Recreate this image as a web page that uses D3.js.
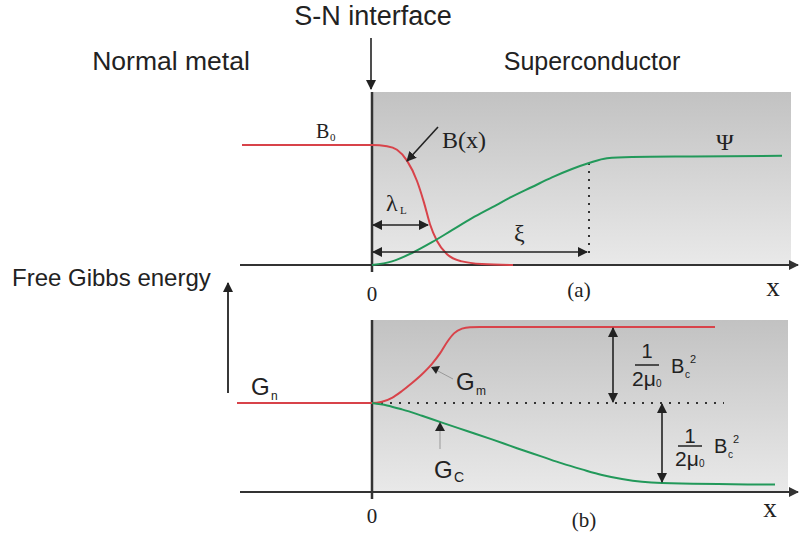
<!DOCTYPE html>
<html><head><meta charset="utf-8">
<script src="https://cdn.jsdelivr.net/npm/d3@7"></script>
<style>body{margin:0;background:#fff}svg{display:block}</style>
</head><body>
<script>
// ---- data (x in arbitrary position units; interface at x = 0) ----
const bFieldX   = [-130, 0, 15, 25, 35, 45, 52, 58, 65, 75, 90, 110, 141];
const bFieldY   = [1, 1, 0.99, 0.96, 0.87, 0.7, 0.52, 0.34, 0.2, 0.09, 0.03, 0.008, 0];
const psiX      = [0, 20, 40, 60, 80, 100, 120, 140, 160, 180, 200, 217, 235, 260, 320, 410];
const psiY      = [0, 0.03, 0.1, 0.19, 0.29, 0.39, 0.48, 0.57, 0.65, 0.73, 0.8, 0.85, 0.89, 0.9, 0.905, 0.91];
const gmX       = [-135, 0, 10, 20, 30, 40, 50, 60, 68, 75, 82, 90, 98, 108, 343];
const gmY       = [0, 0, 0.015, 0.065, 0.15, 0.25, 0.36, 0.49, 0.62, 0.76, 0.87, 0.93, 0.948, 0.95, 0.95];
const gcX       = [0, 15, 30, 50, 70, 95, 120, 145, 170, 190, 210, 230, 250, 270, 290, 403];
const gcY       = [0, -0.03, -0.08, -0.16, -0.245, -0.35, -0.455, -0.565, -0.67, -0.755, -0.83, -0.9, -0.95, -0.985, -1, -1.02];
const lambdaL   = 56;     // penetration depth
const xi        = 215;    // coherence length
const tickLabels = ["0"];

const W = 799, H = 540;
const red = "#d8434a", green = "#22995a", ink = "#222";

const svg = d3.select("body").append("svg").attr("width", W).attr("height", H);
const defs = svg.append("defs");
const grad = defs.append("linearGradient").attr("id","g").attr("x1",0).attr("y1",0).attr("x2",0).attr("y2",1);
grad.append("stop").attr("offset","0%").attr("stop-color","#c2c2c2");
grad.append("stop").attr("offset","100%").attr("stop-color","#e9e9e9");
function marker(id, color){
  defs.append("marker").attr("id",id).attr("viewBox","0 0 10 10").attr("refX",9).attr("refY",5)
   .attr("markerWidth",10).attr("markerHeight",10).attr("markerUnits","userSpaceOnUse").attr("orient","auto-start-reverse")
   .append("path").attr("d","M0,0 L10,5 L0,10 z").attr("fill",color);
}
marker("ah", ink); marker("ahg", "#333");

const x = d3.scaleLinear().domain([-132, 427]).range([240, 799]);
const yTop = d3.scaleLinear().domain([0, 1]).range([265, 145]);
const yBot = d3.scaleLinear().domain([-1, 0]).range([483, 403]);

const serif = "'Liberation Serif','Times New Roman',serif";
const sans  = "'Liberation Sans',Arial,sans-serif";

// panels
svg.append("rect").attr("x", x(0)).attr("y", 92).attr("width", x(419)-x(0)).attr("height", yTop(0)-92).attr("fill","url(#g)");
svg.append("rect").attr("x", x(0)).attr("y", 320).attr("width", x(416)-x(0)).attr("height", 492-320).attr("fill","url(#g)");

// axes
function hAxis(y){
  svg.append("line").attr("x1", x(-132)).attr("x2", x(426)).attr("y1", y).attr("y2", y)
    .attr("stroke","#333").attr("stroke-width",2).attr("marker-end","url(#ahg)");
}
hAxis(yTop(0)); hAxis(492);
svg.append("line").attr("x1",x(0)).attr("x2",x(0)).attr("y1",92).attr("y2",272).attr("stroke","#333").attr("stroke-width",2.5);
svg.append("line").attr("x1",x(0)).attr("x2",x(0)).attr("y1",320).attr("y2",499).attr("stroke","#333").attr("stroke-width",2.5);

// curves
const mk = (xs, ys, sc) => xs.map((d,i)=>[x(d), sc(ys[i])]);
const line = d3.line().curve(d3.curveMonotoneX);
function curve(xs, ys, sc, color){
  svg.append("path").attr("d", line(mk(xs, ys, sc))).attr("fill","none").attr("stroke",color).attr("stroke-width",2);
}

// dotted helpers
svg.append("line").attr("x1",x(xi+2)).attr("x2",x(xi+2)).attr("y1",yTop(0.85)).attr("y2",258)
  .attr("stroke","#333").attr("stroke-width",2).attr("stroke-dasharray","2,6");
svg.append("line").attr("x1",x(0)).attr("x2",x(352)).attr("y1",yBot(0)).attr("y2",yBot(0))
  .attr("stroke","#333").attr("stroke-width",2).attr("stroke-dasharray","2,7");

curve(bFieldX, bFieldY, yTop, red);
curve(psiX, psiY, yTop, green);
curve(gmX, gmY, yBot, red);
curve(gcX, gcY, yBot, green);

// arrows
function arrow(x1,y1,x2,y2,opts={}){
  const l = svg.append("line").attr("x1",x1).attr("y1",y1).attr("x2",x2).attr("y2",y2)
    .attr("stroke",opts.color||ink).attr("stroke-width",opts.w||1.6).attr("marker-end","url(#ah)");
  if(opts.both) l.attr("marker-start","url(#ah)");
}
arrow(x(-1), 38, x(-1), 89);                       // S-N interface
arrow(438, 127, 407, 161);                         // B(x)
arrow(x(0)+1, 225, x(lambdaL), 225, {both:true});   // lambda_L
arrow(x(0)+1, 252, x(xi), 252, {both:true});        // xi
arrow(228, 393, 228, 283, {w:1.8});                 // Gibbs energy
arrow(613, yBot(0.95)+1, 613, yBot(0)-1, {both:true});
arrow(662, yBot(0)+1, 662, yBot(-1)-1, {both:true});
svg.append("line").attr("x1",453).attr("y1",379).attr("x2",436).attr("y2",370).attr("stroke","#999").attr("stroke-width",1);
svg.append("path").attr("d","M431,367 L440,366 L436,374 z").attr("fill",ink);
svg.append("line").attr("x1",440).attr("y1",449).attr("x2",440).attr("y2",428).attr("stroke","#999").attr("stroke-width",1);
svg.append("path").attr("d","M440,422 L445,431 L435,431 z").attr("fill",ink);

// text helpers
function txt(s, xx, yy, size, family, anchor="start", fill=ink){
  return svg.append("text").attr("x",xx).attr("y",yy).attr("font-size",size).attr("font-family",family)
    .attr("text-anchor",anchor).attr("fill",fill).text(s);
}
txt("S-N interface", 373, 25, 27, sans, "middle");
txt("Normal metal", 171, 70, 26.5, sans, "middle");
txt("Superconductor", 592, 70, 25, sans, "middle");
txt("Free Gibbs energy", 12, 286, 24, sans);

// top panel labels
txt("B", 316, 138, 20, serif); txt("0", 330, 141, 11, serif);
txt("B(x)", 442, 148, 24, serif);
txt("λ", 386, 211, 24, serif); txt("L", 400, 214, 11, serif);
txt("ξ", 514, 241, 24, serif);
txt("Ψ", 716, 150, 24, serif);
txt(tickLabels[0], x(0), 301, 21, serif, "middle");
txt("(a)", 579, 297, 21, serif, "middle");
txt("x", 773, 296, 27, serif, "middle");

// bottom panel labels
txt("G", 251, 395, 24, sans); txt("n", 271, 400, 12, sans);
txt("G", 456, 390, 24, sans); txt("m", 476, 395, 12, sans);
txt("G", 434, 478, 24, sans); txt("C", 454, 482, 14, sans);
txt(tickLabels[0], x(0), 523, 21, serif, "middle");
txt("(b)", 584, 527, 21, serif, "middle");
txt("x", 770, 517, 27, serif, "middle");

function frac(cx, y1, yb, y2, bx, by){
  txt("1", cx, y1, 20, sans, "middle");
  svg.append("line").attr("x1",cx-12).attr("x2",cx+12).attr("y1",yb).attr("y2",yb).attr("stroke",ink).attr("stroke-width",1.5);
  txt("2μ", cx-3, y2, 21, sans, "middle");
  txt("0", cx+9, y2+1, 10, sans);
  txt("B", bx, by, 20, sans); txt("c", bx+14, by+5, 10, sans); txt("2", bx+19, by-10, 11, sans);
}
frac(647, 358, 365, 386, 671, 373);
frac(690, 443, 446, 466, 714, 453);
</script>
</body></html>
